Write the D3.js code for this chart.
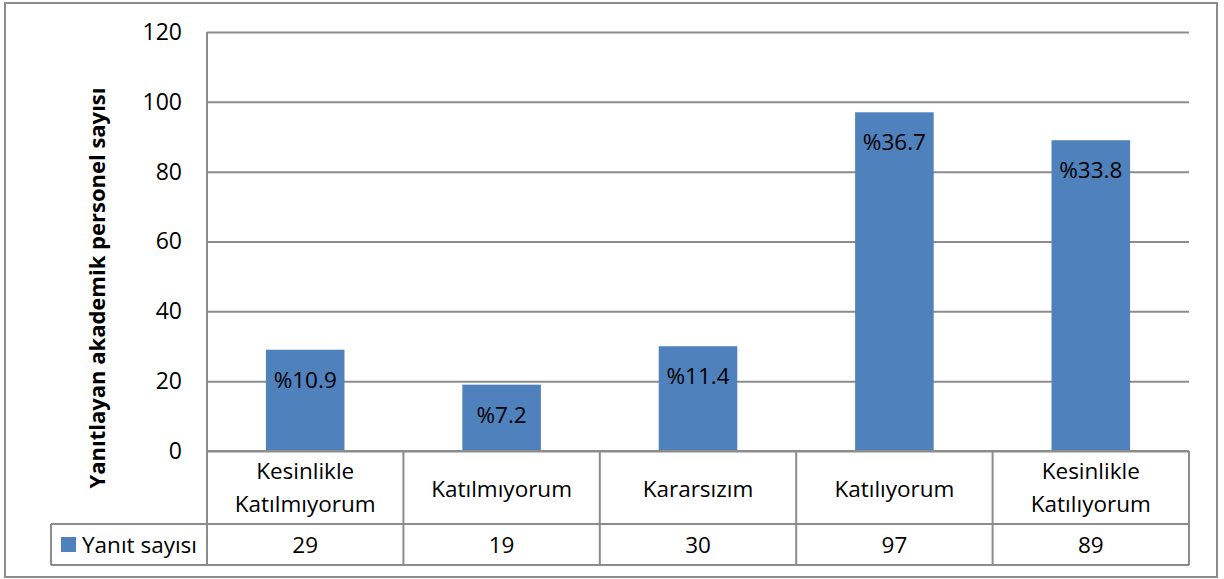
<!DOCTYPE html>
<html>
<head>
<meta charset="utf-8">
<script src="https://cdn.jsdelivr.net/npm/d3@7"></script>
<style>
  body { margin: 0; background: #fff; }
  svg { display: block; font-family: "Open Sans", sans-serif; }
  .grid line { stroke: #8c8c8c; stroke-width: 2; }
  .grid text { fill: #000; }
  .tbl { stroke: #8c8c8c; stroke-width: 2; fill: none; }
</style>
</head>
<body>
<div class="svg-wrapper"></div>
<script>
// chart data
const categories = ["Kesinlikle Katılmıyorum", "Katılmıyorum", "Kararsızım", "Katılıyorum", "Kesinlikle Katılıyorum"];
const categoryLines = [["Kesinlikle", "Katılmıyorum"], ["Katılmıyorum"], ["Kararsızım"], ["Katılıyorum"], ["Kesinlikle", "Katılıyorum"]];
const counts = [29, 19, 30, 97, 89];
const percentLabels = ["%10.9", "%7.2", "%11.4", "%36.7", "%33.8"];
const yTicks = [0, 20, 40, 60, 80, 100, 120];
const seriesName = "Yanıt sayısı";
const yAxisLabel = "Yanıtlayan akademik personel sayısı";

const width = 1224, height = 579;
const margin = {top: 32, right: 35, bottom: 128, left: 207};
const innerWidth = width - margin.left - margin.right;
const innerHeight = height - margin.top - margin.bottom;
const rowHeader = 73, rowValue = 41;
const legendLeft = 51;
const barColor = "#4f81bd";
const fs = "22.5px";

const svg = d3.select(".svg-wrapper")
  .append("svg")
  .attr("width", width)
  .attr("height", height);

// outer chart border
svg.append("rect")
  .attr("x", 5).attr("y", 3)
  .attr("width", 1212).attr("height", 574)
  .attr("fill", "#fff")
  .attr("stroke", "#8c8c8c")
  .attr("stroke-width", 2);

const xScale = d3.scaleBand()
  .domain(categories)
  .range([0, innerWidth])
  .padding(0);

const yScale = d3.scaleLinear()
  .domain([0, 120])
  .range([innerHeight, 0]);

const g = svg.append("g")
  .attr("transform", `translate(${margin.left},${margin.top})`);

const yAxis = d3.axisLeft(yScale)
  .tickValues(yTicks)
  .tickSize(-innerWidth)
  .tickPadding(25);

const yAxisG = g.append("g").attr("class", "grid").call(yAxis);
yAxisG.selectAll(".domain").remove();
yAxisG.selectAll("text").attr("font-family", "'Open Sans', sans-serif").style("font-size", "23px");

// vertical axis line
g.append("line")
  .attr("class", "tbl")
  .attr("x1", 0).attr("x2", 0)
  .attr("y1", 0).attr("y2", innerHeight + rowHeader + rowValue);

// axis title
svg.append("text")
  .attr("transform", `translate(105,288) rotate(-90)`)
  .attr("text-anchor", "middle")
  .style("font-size", "22px")
  .style("font-weight", "bold")
  .text(yAxisLabel);

// bars
const barW = xScale.bandwidth() * 0.4;
g.selectAll(".bar")
  .data(counts)
  .enter()
  .append("rect")
  .attr("class", "bar")
  .attr("x", (d, i) => xScale(categories[i]) + (xScale.bandwidth() - barW) / 2)
  .attr("y", d => yScale(d))
  .attr("width", barW)
  .attr("height", d => innerHeight - yScale(d))
  .attr("fill", barColor);

g.selectAll(".pct")
  .data(counts)
  .enter()
  .append("text")
  .attr("class", "pct")
  .attr("x", (d, i) => xScale(categories[i]) + xScale.bandwidth() / 2)
  .attr("y", d => yScale(d) + 38)
  .attr("text-anchor", "middle")
  .style("font-size", fs)
  .text((d, i) => percentLabels[i]);

// data table
const tg = g.append("g").attr("transform", `translate(0,${innerHeight})`);

tg.append("line").attr("class", "tbl")
  .attr("x1", 0).attr("x2", innerWidth).attr("y1", 0).attr("y2", 0);
tg.append("line").attr("class", "tbl")
  .attr("x1", legendLeft - margin.left).attr("x2", innerWidth)
  .attr("y1", rowHeader).attr("y2", rowHeader);
tg.append("line").attr("class", "tbl")
  .attr("x1", legendLeft - margin.left).attr("x2", innerWidth)
  .attr("y1", rowHeader + rowValue).attr("y2", rowHeader + rowValue);
tg.append("line").attr("class", "tbl")
  .attr("x1", legendLeft - margin.left).attr("x2", legendLeft - margin.left)
  .attr("y1", rowHeader).attr("y2", rowHeader + rowValue);

categories.forEach(function(c){
  tg.append("line").attr("class", "tbl")
    .attr("x1", xScale(c) + xScale.bandwidth()).attr("x2", xScale(c) + xScale.bandwidth())
    .attr("y1", 0).attr("y2", rowHeader + rowValue);
});

categoryLines.forEach(function(lines, i){
  const cx = xScale(categories[i]) + xScale.bandwidth() / 2;
  const t = tg.append("text")
    .attr("text-anchor", "middle")
    .style("font-size", fs);
  const start = lines.length == 1 ? 46 : 28;
  lines.forEach(function(l, j){
    t.append("tspan").attr("x", cx).attr("y", start + j * 33).text(l);
  });
});

tg.selectAll(".val")
  .data(counts)
  .enter()
  .append("text")
  .attr("class", "val")
  .attr("x", (d, i) => xScale(categories[i]) + xScale.bandwidth() / 2)
  .attr("y", rowHeader + 29)
  .attr("text-anchor", "middle")
  .style("font-size", fs)
  .text(d => d);

// legend key in table
tg.append("rect")
  .attr("x", legendLeft - margin.left + 10)
  .attr("y", rowHeader + 13)
  .attr("width", 15).attr("height", 15)
  .attr("fill", barColor);

tg.append("text")
  .attr("x", legendLeft - margin.left + 31)
  .attr("y", rowHeader + 29)
  .style("font-size", fs)
  .text(seriesName);
</script>
</body>
</html>
